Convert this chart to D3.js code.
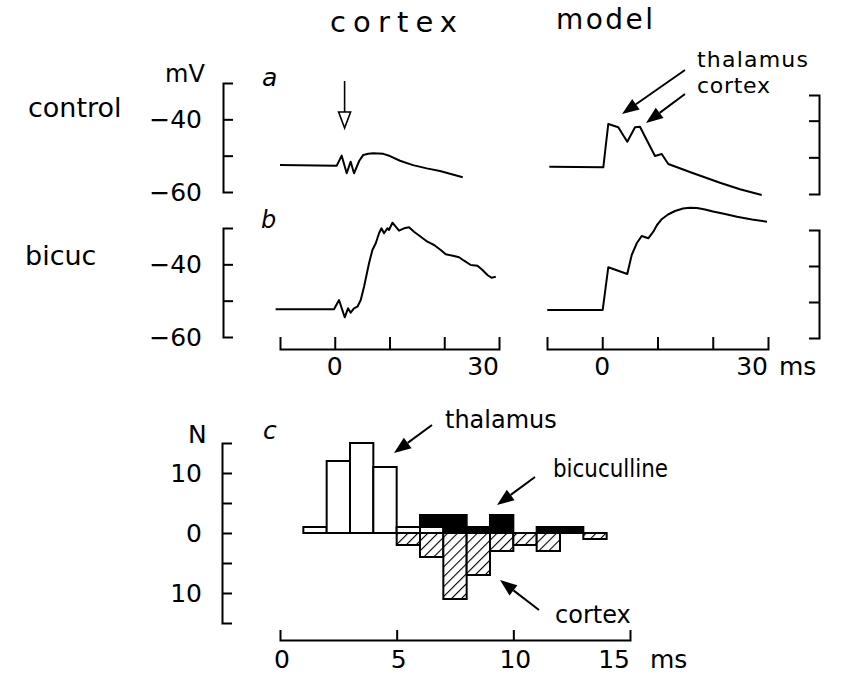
<!DOCTYPE html>
<html><head><meta charset="utf-8">
<script src="https://cdn.jsdelivr.net/npm/d3@7"></script>
<style>
html,body{margin:0;padding:0;background:#fff;}
svg{display:block;font-family:"DejaVu Sans",sans-serif;}
</style></head>
<body>
<script>
// ---------- DATA ----------
// Panel a (control), cortex recording: time (ms) / membrane potential (mV)
const cortexCtrlT = [-10,0.36,0.41,1.27,2.18,2.91,3.52,4.48,5.21,6.13,7.04,8.87,10.09,11.92,14.29,16.8,19.22,23.37];
const cortexCtrlV = [-52.57,-52.76,-52.6,-50.0,-54.85,-51.66,-54.85,-51.4,-49.8,-49.5,-49.35,-49.5,-50.1,-51.4,-52.6,-53.5,-54.2,-55.95];
// Panel a (control), model
const modelCtrlT = [-9.58,0.19,1.09,2.9,4.53,5.93,6.83,8.05,9.55,10.76,11.95,16.48,21.31,24.93,28.86];
const modelCtrlV = [-52.56,-52.72,-40.91,-41.81,-45.74,-41.81,-41.65,-45.27,-49.64,-49.09,-51.82,-54.35,-56.92,-58.72,-60.27];
// Panel b (bicuculline), cortex recording
const cortexBicT = [-10.8,-0.13,0.78,1.82,2.42,2.91,3.51,4.14,4.75,5.35,6.26,6.88,7.49,8.09,8.53,9.0,9.62,9.91,10.54,11.14,11.74,12.66,13.57,14.48,15.71,16.93,18.14,19.36,20.27,21.79,22.71,23.62,24.84,26.07,26.98,27.89,28.62,29.41];
const cortexBicV = [-52.38,-52.38,-49.82,-54.58,-52.1,-53.31,-52.1,-51.66,-49.82,-46.15,-39.71,-36.05,-34.21,-31.46,-30.08,-31.46,-30.08,-30.55,-28.54,-29.64,-30.74,-30.08,-29.8,-31.02,-32.39,-33.77,-34.68,-36.05,-37.24,-37.7,-38.06,-39.0,-40.18,-40.37,-41.56,-42.93,-43.68,-43.4];
// Panel b (bicuculline), model
const modelBicT = [-9.95,0.08,1.09,4.53,5.33,6.24,7.14,8.33,9.24,9.91,10.81,11.9,13.17,14.62,15.88,17.15,18.6,20.05,22.22,24.39,27.1,29.82];
const modelBicV = [-52.22,-52.22,-40.36,-42.22,-36.94,-33.69,-31.67,-32.31,-30.47,-28.61,-26.94,-25.69,-24.72,-24.03,-23.83,-23.89,-24.31,-24.86,-25.56,-26.31,-27.08,-27.69];
const stimTime = 1.8;

// Panel c histogram: bins of 1 ms starting at these latencies
const binStarts   = [1,2,3,4,5,6,7,8,9,10,11,12,13];
const thalamusN   = [1,12,15,11,1,1,0,0,0,0,0,0,0];
const bicucullineN= [0,0,0,0,0,2,3,1,3,0,1,1,0];   // stacked on thalamus
const cortexN     = [0,0,0,0,2,4,11,7,3,2,3,0,1];   // plotted downward

// Tick labels
const mvTickValues = [-40,-60];
const mvTickLabels = ["\u221240","\u221260"];
const traceXLabels = ["0","30"];
const histXTicks = [0,5,10,15];
const histXLabels = ["0","5","10","15"];
const histYTicks = [10,0,-10];
const histYLabels = ["10","0","10"];

// ---------- DRAW ----------
const W = 854, H = 680;
const svg = d3.select("body").append("svg").attr("width", W).attr("height", H);
svg.append("rect").attr("width", W).attr("height", H).attr("fill", "#fff");

const defs = svg.append("defs");
const pat = defs.append("pattern").attr("id","hatch").attr("patternUnits","userSpaceOnUse")
  .attr("width",7).attr("height",7).attr("patternTransform","rotate(45)");
pat.append("rect").attr("width",7).attr("height",7).attr("fill","#fff");
pat.append("line").attr("x1",0).attr("y1",0).attr("x2",0).attr("y2",7)
  .attr("stroke","#000").attr("stroke-width",2.2);

const xCortex = d3.scaleLinear().domain([-10,30]).range([280,499]);
const xModel  = d3.scaleLinear().domain([-10,30]).range([547,768]);
const yCortexA = d3.scaleLinear().domain([-60,-30]).range([192,83]);
const yCortexB = d3.scaleLinear().domain([-60,-30]).range([337,228]);
const yModelA  = d3.scaleLinear().domain([-60,-33]).range([194,95]);
const yModelB  = d3.scaleLinear().domain([-60,-30]).range([338,230]);

function styleAxis(g){
  g.selectAll("path,line").attr("stroke","#000").attr("stroke-width",2);
  g.attr("font-size",null).attr("font-family",null);
}
function vAxis(x, scale, right){
  const ax = (right ? d3.axisLeft(scale) : d3.axisRight(scale))
    .tickValues([-50,-40]).tickSize(10).tickSizeOuter(10).tickFormat("");
  svg.append("g").attr("transform",`translate(${x},0)`).call(ax).call(styleAxis);
}
vAxis(223, yCortexA, false);
vAxis(223, yCortexB, false);
vAxis(819, yModelA, true);
vAxis(819, yModelB, true);

function hAxis(y, scale, vals){
  const ax = d3.axisTop(scale).tickValues(vals).tickSize(12).tickSizeOuter(12).tickFormat("");
  svg.append("g").attr("transform",`translate(0,${y})`).call(ax).call(styleAxis);
}
hAxis(349, xCortex, [0,10,20]);
hAxis(349, xModel, [0,10,20]);

function trace(T, V, xs, ys){
  const pts = T.map((t,i)=>[t,V[i]]);
  svg.append("path").datum(pts)
    .attr("d", d3.line().x(d=>xs(d[0])).y(d=>ys(d[1])))
    .attr("fill","none").attr("stroke","#000").attr("stroke-width",2)
    .attr("stroke-linejoin","round");
}
trace(cortexCtrlT, cortexCtrlV, xCortex, yCortexA);
trace(modelCtrlT, modelCtrlV, xModel, yModelA);
trace(cortexBicT, cortexBicV, xCortex, yCortexB);
trace(modelBicT, modelBicV, xModel, yModelB);

// text helper
function txt(x,y,s,size,anchor,extra){
  const t = svg.append("text").attr("x",x).attr("y",y).text(s)
    .attr("font-size",size).attr("text-anchor",anchor||"start").attr("fill","#000");
  if(extra) extra(t);
  return t;
}
// Titles
txt(330,32,"cortex",29,"start",t=>t.attr("textLength",127).attr("lengthAdjust","spacing"));
txt(556,29,"model",28,"start",t=>t.attr("textLength",97).attr("lengthAdjust","spacing"));
txt(28,117,"control",27);
txt(25,265,"bicuc",27);
txt(165,82,"mV",24);

// mV tick labels
[yCortexA, yCortexB].forEach(ys=>{
  mvTickValues.forEach((v,i)=> txt(202, ys(v)+9, mvTickLabels[i], 25, "end"));
});
// time labels
txt(xCortex(0), 375, traceXLabels[0], 25, "middle");
txt(xCortex(30), 375, traceXLabels[1], 25, "end");
txt(xModel(0), 375, traceXLabels[0], 25, "middle");
txt(xModel(30), 375, traceXLabels[1], 25, "end");
txt(xModel(30)+11, 375, "ms", 25, "start");

// panel letters
txt(262,86,"a",25,"start",t=>t.attr("font-style","italic"));
txt(261,228,"b",24,"start",t=>t.attr("font-style","italic"));
txt(263,439,"c",25,"start",t=>t.attr("font-style","italic"));

// stimulus arrow
const sx = xCortex(stimTime);
svg.append("line").attr("x1",sx).attr("y1",81).attr("x2",sx).attr("y2",113)
  .attr("stroke","#000").attr("stroke-width",1.6);
svg.append("path").attr("d",`M${sx-6},112L${sx+6},112L${sx},128Z`)
  .attr("fill","#fff").attr("stroke","#000").attr("stroke-width",1.6).attr("stroke-linejoin","miter");

// annotation arrows
function arrow(x1,y1,x2,y2){
  const dx=x2-x1, dy=y2-y1, L=Math.hypot(dx,dy), ux=dx/L, uy=dy/L;
  const hl=17, hw=6.5;
  const bx=x2-ux*hl, by=y2-uy*hl;
  svg.append("line").attr("x1",x1).attr("y1",y1).attr("x2",bx).attr("y2",by)
    .attr("stroke","#000").attr("stroke-width",2);
  svg.append("path").attr("d",`M${x2},${y2}L${bx-uy*hw},${by+ux*hw}L${bx+uy*hw},${by-ux*hw}Z`).attr("fill","#000");
}
txt(697,67,"thalamus",22,"start",t=>t.attr("textLength",111).attr("lengthAdjust","spacing"));
txt(697,93,"cortex",22,"start",t=>t.attr("textLength",73).attr("lengthAdjust","spacing"));
arrow(685,70,622,114);
arrow(685,94,646,123);

// ---------- HISTOGRAM ----------
const xHist = d3.scaleLinear().domain([0,15]).range([280,630]);
const yHist = d3.scaleLinear().domain([-15,15]).range([623,443]);

svg.append("g").attr("transform","translate(222,0)")
  .call(d3.axisRight(yHist).tickValues([-10,-5,0,5,10]).tickSize(10).tickSizeOuter(10).tickFormat(""))
  .call(styleAxis);
svg.append("g").attr("transform","translate(0,640)")
  .call(d3.axisTop(xHist).tickValues([5,10]).tickSize(10).tickSizeOuter(10).tickFormat(""))
  .call(styleAxis);

const bars = binStarts.map((b,i)=>({b, th:thalamusN[i], bi:bicucullineN[i], cx:cortexN[i]}));
const hg = svg.append("g");
hg.selectAll("rect.cx").data(bars.filter(d=>d.cx>0)).join("rect").attr("class","cx")
  .attr("x",d=>xHist(d.b)).attr("width",d=>xHist(d.b+1)-xHist(d.b))
  .attr("y",yHist(0)).attr("height",d=>yHist(-d.cx)-yHist(0))
  .attr("fill","url(#hatch)").attr("stroke","#000").attr("stroke-width",2);
hg.selectAll("rect.th").data(bars.filter(d=>d.th>0)).join("rect").attr("class","th")
  .attr("x",d=>xHist(d.b)).attr("width",d=>xHist(d.b+1)-xHist(d.b))
  .attr("y",d=>yHist(d.th)).attr("height",d=>yHist(0)-yHist(d.th))
  .attr("fill","#fff").attr("stroke","#000").attr("stroke-width",2);
hg.selectAll("rect.bi").data(bars.filter(d=>d.bi>0)).join("rect").attr("class","bi")
  .attr("x",d=>xHist(d.b)).attr("width",d=>xHist(d.b+1)-xHist(d.b))
  .attr("y",d=>yHist(d.th+d.bi)).attr("height",d=>yHist(d.th)-yHist(d.th+d.bi))
  .attr("fill","#000").attr("stroke","#000").attr("stroke-width",2);

// histogram labels
txt(188,443,"N",25);
histYTicks.forEach((v,i)=> txt(202, yHist(v)+9, histYLabels[i], 25, "end"));
histXTicks.forEach((v,i)=>{
  if(i===histXTicks.length-1){
    txt(xHist(v), 668, histXLabels[i], 25, "end");
    txt(xHist(v)+20, 668, "ms", 25, "start");
  } else txt(xHist(v)+2, 668, histXLabels[i], 25, "middle");
});
txt(445,428,"thalamus",24);
arrow(432,425,394,453);
txt(553,477,"bicuculline",24,"start",t=>t.attr("textLength",115).attr("lengthAdjust","spacingAndGlyphs"));
arrow(535,477,497,505);
txt(555,623,"cortex",24);
arrow(539,610,500,580);
</script>
</body></html>
